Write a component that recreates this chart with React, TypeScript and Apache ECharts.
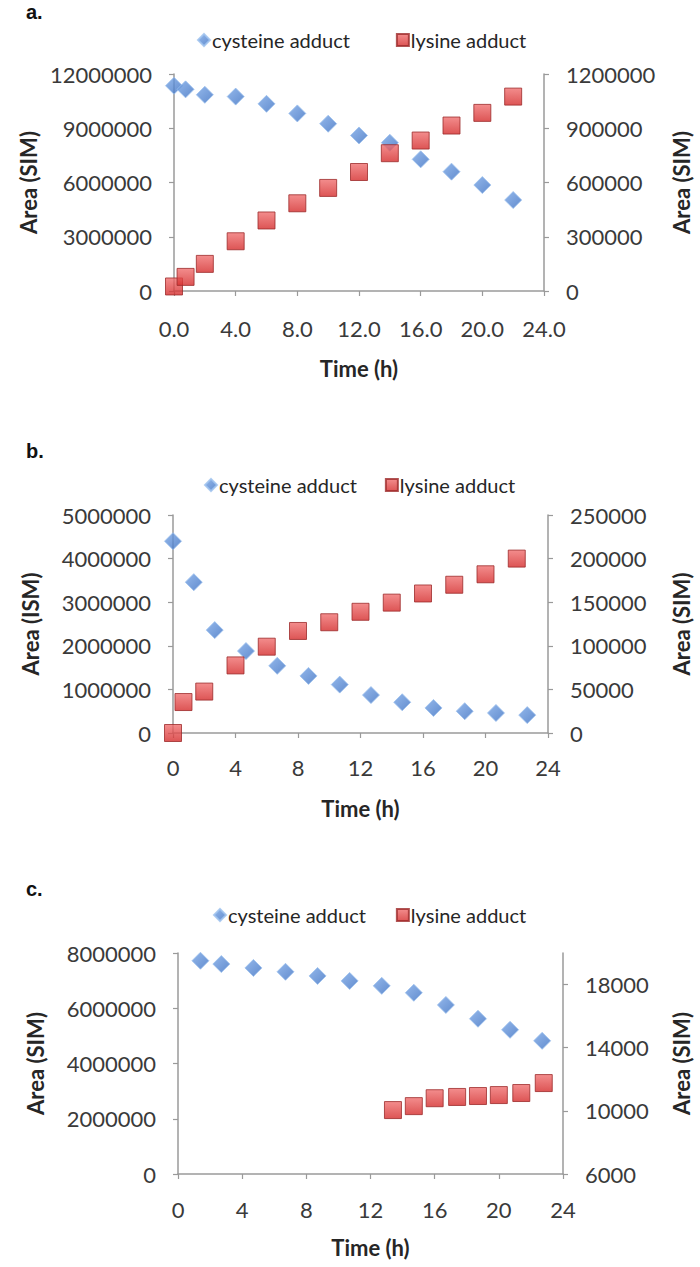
import React, { useEffect, useRef } from "react";
import * as echarts from "echarts";

// ---- Data ----
const panelLabels = ["a.", "b.", "c."];
const seriesNames = ["cysteine adduct", "lysine adduct"];
const xTicks = [0, 4, 8, 12, 16, 20, 24];

// Panel a
const cysTimeA = [0, 0.75, 2, 4, 6, 8, 10, 12, 14, 16, 18, 20, 22];
const cysAreaA = [11350000, 11150000, 10850000, 10750000, 10350000, 9820000, 9250000, 8600000, 8200000, 7280000, 6600000, 5860000, 5030000];
const lysTimeA = [0, 0.75, 2, 4, 6, 8, 10, 12, 14, 16, 18, 20, 22];
const lysAreaA = [25000, 78000, 150000, 275000, 390000, 485000, 570000, 658000, 762000, 832000, 915000, 985000, 1075000];
const leftTicksA = [0, 3000000, 6000000, 9000000, 12000000];
const rightTicksA = [0, 300000, 600000, 900000, 1200000];

// Panel b
const cysTimeB = [0, 1.33, 2.67, 4.67, 6.67, 8.67, 10.67, 12.67, 14.67, 16.67, 18.67, 20.67, 22.67];
const cysAreaB = [4400000, 3460000, 2360000, 1880000, 1540000, 1310000, 1110000, 870000, 705000, 575000, 500000, 460000, 410000];
const lysTimeB = [0, 0.67, 2, 4, 6, 8, 10, 12, 14, 16, 18, 20, 22];
const lysAreaB = [0, 35500, 47500, 77500, 99000, 117000, 127000, 139000, 149500, 160000, 170000, 182000, 200000];
const leftTicksB = [0, 1000000, 2000000, 3000000, 4000000, 5000000];
const rightTicksB = [0, 50000, 100000, 150000, 200000, 250000];

// Panel c
const cysTimeC = [1.4, 2.7, 4.7, 6.7, 8.7, 10.7, 12.7, 14.7, 16.7, 18.7, 20.7, 22.7];
const cysAreaC = [7720000, 7600000, 7460000, 7320000, 7170000, 6990000, 6810000, 6560000, 6120000, 5620000, 5220000, 4820000];
const lysTimeC = [13.4, 14.7, 16.0, 17.4, 18.7, 20.0, 21.4, 22.8];
const lysAreaC = [10050, 10300, 10800, 10880, 10940, 11000, 11130, 11760];
const leftTicksC = [0, 2000000, 4000000, 6000000, 8000000];
const rightTicksC = [6000, 10000, 14000, 18000];
const rightMaxC = 20000;

const leftNames = ["Area (SIM)", "Area (ISM)", "Area (SIM)"];
const rightName = "Area (SIM)";
const xName = "Time (h)";

const FONT = "Lato, 'Open Sans', sans-serif";
const AXIS_COLOR = "#9a9a9a";
const LABEL_COLOR = "#3a3a3a";

const blueFill = new echarts.graphic.LinearGradient(0, 0, 1, 1, [
  { offset: 0, color: "#79a6e6" },
  { offset: 1, color: "#3a6fc2" },
]);
const redFill = new echarts.graphic.LinearGradient(0, 0, 0, 1, [
  { offset: 0, color: "#f07070" },
  { offset: 1, color: "#d42a2a" },
]);

export default function App() {
  const ref = useRef<HTMLDivElement>(null);

  useEffect(() => {
    if (!ref.current) return;
    const chart = echarts.init(ref.current, undefined, { renderer: "svg" });

    const grids = [
      { left: 174, right: 152, top: 74, height: 217 },
      { left: 173, right: 148, top: 515, height: 218 },
      { left: 178, right: 133, top: 953, height: 221 },
    ];
    const leftTicks = [leftTicksA, leftTicksB, leftTicksC];
    const rightTicks = [rightTicksA, rightTicksB, rightTicksC];
    const rightMax = [rightTicksA[rightTicksA.length - 1], rightTicksB[rightTicksB.length - 1], rightMaxC];
    const xDecimals = [1, 0, 0];
    const xLabelMargin = [26, 23, 24];
    const xNameGap = [66, 64, 62];
    const leftNameGap = [128, 132, 132];
    const rightNameGap = [126, 122, 107];
    const legendTop = [30, 475, 905];
    const legendLeft = [197, 204, 213];
    const legendGap = [46, 28, 30];
    const titleTop = [2, 441, 879];

    const cys = [
      [cysTimeA, cysAreaA],
      [cysTimeB, cysAreaB],
      [cysTimeC, cysAreaC],
    ];
    const lys = [
      [lysTimeA, lysAreaA],
      [lysTimeB, lysAreaB],
      [lysTimeC, lysAreaC],
    ];

    const axisLine = { show: true, lineStyle: { color: AXIS_COLOR, width: 1.5 } };
    const axisTick = { show: true, length: 5, lineStyle: { color: AXIS_COLOR, width: 1.2 } };
    const labelStyle = { color: LABEL_COLOR, fontSize: 22, fontFamily: FONT };
    const nameStyle = { color: "#262626", fontSize: 22, fontWeight: "bold" as const, fontFamily: FONT };
    const plain = (v: number) => String(v);

    const xAxis: any[] = [];
    const yAxis: any[] = [];
    const series: any[] = [];
    const legend: any[] = [];
    const title: any[] = [];

    grids.forEach((g, i) => {
      xAxis.push({
        type: "value",
        gridIndex: i,
        min: xTicks[0],
        max: xTicks[xTicks.length - 1],
        interval: xTicks[1] - xTicks[0],
        name: xName,
        nameLocation: "middle",
        nameGap: xNameGap[i],
        nameTextStyle: nameStyle,
        axisLine,
        axisTick,
        splitLine: { show: false },
        axisLabel: {
          ...labelStyle,
          margin: xLabelMargin[i],
          formatter: (v: number) => v.toFixed(xDecimals[i]),
        },
      });
      const lt = leftTicks[i];
      yAxis.push({
        type: "value",
        gridIndex: i,
        position: "left",
        min: lt[0],
        max: lt[lt.length - 1],
        interval: lt[1] - lt[0],
        name: leftNames[i],
        nameLocation: "middle",
        nameGap: leftNameGap[i],
        nameRotate: 90,
        nameTextStyle: nameStyle,
        axisLine,
        axisTick,
        splitLine: { show: false },
        axisLabel: { ...labelStyle, margin: 22, formatter: plain },
      });
      const rt = rightTicks[i];
      yAxis.push({
        type: "value",
        gridIndex: i,
        position: "right",
        min: rt[0],
        max: rightMax[i],
        interval: rt[1] - rt[0],
        name: rightName,
        nameLocation: "middle",
        nameGap: rightNameGap[i],
        nameRotate: 90,
        nameTextStyle: nameStyle,
        axisLine,
        axisTick,
        splitLine: { show: false },
        axisLabel: {
          ...labelStyle,
          margin: 22,
          formatter: plain,
          showMaxLabel: rightMax[i] === rt[rt.length - 1],
        },
      });
      series.push({
        type: "scatter",
        name: seriesNames[0],
        xAxisIndex: i,
        yAxisIndex: i * 2,
        symbol: "diamond",
        symbolSize: 17,
        itemStyle: { color: blueFill, borderColor: "#9cc0ee", borderWidth: 1 },
        data: cys[i][0].map((t, k) => [t, cys[i][1][k]]),
        clip: false,
        z: 3,
      });
      series.push({
        type: "scatter",
        name: seriesNames[1],
        xAxisIndex: i,
        yAxisIndex: i * 2 + 1,
        symbol: "rect",
        symbolSize: 17,
        itemStyle: { color: redFill, borderColor: "#9c2a2a", borderWidth: 1 },
        data: lys[i][0].map((t, k) => [t, lys[i][1][k]]),
        clip: false,
        z: 4,
      });
      legend.push({
        top: legendTop[i],
        left: legendLeft[i],
        padding: 0,
        itemGap: legendGap[i],
        itemWidth: 12,
        itemHeight: 12,
        selectedMode: false,
        textStyle: { color: "#262626", fontSize: 20, fontFamily: FONT, padding: [0, 0, 0, -3] },
        data: [
          { name: seriesNames[0], icon: "diamond" },
          { name: seriesNames[1], icon: "rect" },
        ],
      });
      title.push({
        text: panelLabels[i],
        left: 26,
        top: titleTop[i],
        padding: 0,
        textStyle: { fontSize: 20, fontWeight: "bold", color: "#111", fontFamily: "'Liberation Sans', Arial, sans-serif" },
      });
    });

    chart.setOption({
      animation: false,
      backgroundColor: "#ffffff",
      title,
      legend,
      grid: grids,
      xAxis,
      yAxis,
      series,
    });

    return () => chart.dispose();
  }, []);

  return (
    <div
      ref={ref}
      style={{ position: "absolute", left: 0, top: 0, width: 700, height: 1267 }}
    />
  );
}
